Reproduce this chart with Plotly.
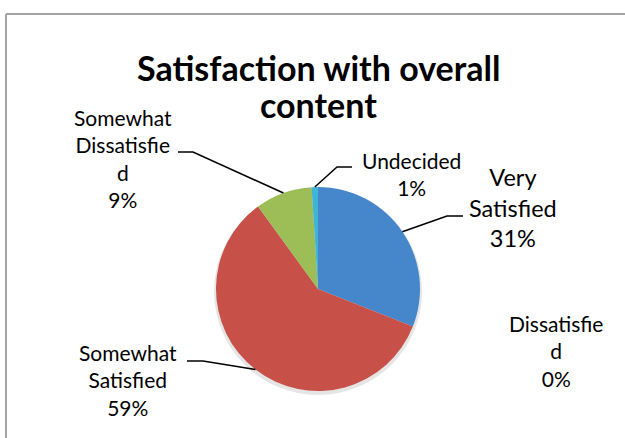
import math
import plotly.graph_objects as go

# ---- data ----
categories = ["Very Satisfied", "Dissatisfied", "Somewhat Satisfied",
              "Somewhat Dissatisfied", "Undecided"]
percent_values = [31, 0, 59, 9, 1]
# label text as wrapped in the original chart
label_text = ["Very<br>Satisfied", "Dissatisfie<br>d", "Somewhat<br>Satisfied",
              "Somewhat<br>Dissatisfie<br>d", "Undecided"]
slice_colors = ["#4687cc", "#8064a2", "#c75049", "#9dbd57", "#3fb5d5"]
title_lines = ["Satisfaction with overall", "content"]

# ---- layout constants (pixels) ----
W, H = 625, 438
CX, CY, R = 318, 289, 102
# label placement: center x, center y, font size, leader (start x, elbow x, y) or None
placements = [
    (513, 207, 23.5, (463, 447, 216)),
    (556, 351, 21, None),
    (128, 380, 21, (187, 203, 361)),
    (123, 158, 21, (178, 193, 152)),
    (411, 174, 21, (352, 337, 167)),
]


def px(x):
    return x / W


def py(y):
    return 1 - y / H


fig = go.Figure()
fig.add_trace(go.Pie(
    labels=categories,
    values=percent_values,
    sort=False,
    direction="clockwise",
    rotation=0,
    marker=dict(colors=slice_colors, line=dict(width=0)),
    textinfo="none",
    hoverinfo="label+percent",
    showlegend=False,
    domain=dict(x=[px(CX - R), px(CX + R)], y=[py(CY + R), py(CY - R)]),
))

shapes = []
# faint shadow under the pie
shapes.append(dict(type="circle", xref="paper", yref="paper", layer="below",
                   x0=px(CX - R - 2), x1=px(CX + R + 2),
                   y0=py(CY + R + 4), y1=py(CY - R + 1),
                   fillcolor="rgba(0,0,0,0.10)", line=dict(width=0)))
# chart frame
shapes.append(dict(type="line", xref="paper", yref="paper",
                   x0=px(6), x1=px(W + 5), y0=py(14), y1=py(14),
                   line=dict(color="#a3a3a3", width=2)))
shapes.append(dict(type="line", xref="paper", yref="paper",
                   x0=px(6), x1=px(6), y0=py(14), y1=py(H + 5),
                   line=dict(color="#a3a3a3", width=2)))

annotations = []
total = sum(percent_values)
cum = 0
for cat, val, txt, (lx, ly, fs, leader) in zip(categories, percent_values,
                                               label_text, placements):
    mid = (cum + val / 2) / total * 2 * math.pi
    cum += val
    annotations.append(dict(
        x=px(lx), y=py(ly), xref="paper", yref="paper",
        text=f"{txt}<br>{val}%", showarrow=False,
        xanchor="center", yanchor="middle", align="center",
        font=dict(family="Lato", size=fs, color="#000000")))
    if leader is not None:
        sx, ex, ey = leader
        ax = CX + R * math.sin(mid)
        ay = CY - R * math.cos(mid)
        path = f"M {px(sx)} {py(ey)} L {px(ex)} {py(ey)} L {px(ax)} {py(ay)}"
        shapes.append(dict(type="path", xref="paper", yref="paper", path=path,
                           line=dict(color="#000000", width=1.5)))

title_y = [67, 104]
for line, ty in zip(title_lines, title_y):
    annotations.append(dict(
        x=px(CX), y=py(ty), xref="paper", yref="paper",
        text=f"<b>{line}</b>", showarrow=False,
        xanchor="center", yanchor="middle", height=34, valign="middle",
        font=dict(family="Lato", size=34, color="#000000")))

fig.update_layout(
    width=W, height=H,
    margin=dict(l=0, r=0, t=0, b=0),
    paper_bgcolor="white", plot_bgcolor="white",
    shapes=shapes, annotations=annotations,
)

fig.write_html("out.html")
